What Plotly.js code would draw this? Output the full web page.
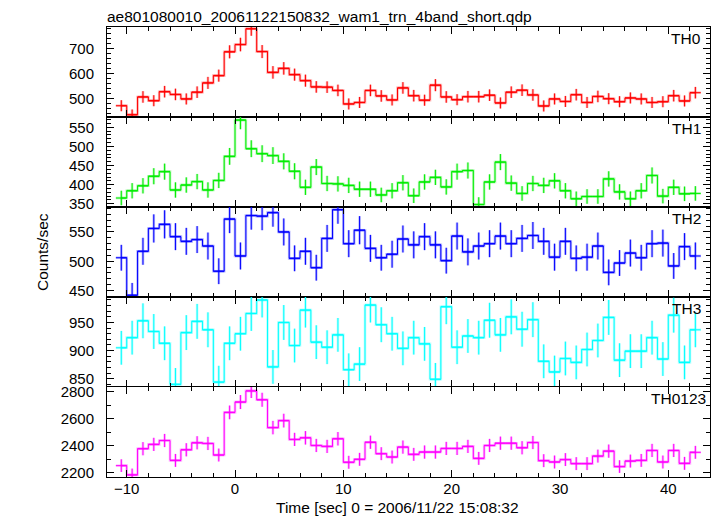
<!DOCTYPE html>
<html>
<head>
<meta charset="utf-8">
<script src="https://cdn.plot.ly/plotly-3.0.1.min.js"></script>
<style>html,body{margin:0;padding:0;background:#fff;}#chart{width:717px;height:516px;}</style>
</head>
<body>
<div id="chart"></div>
<script>
// Bin centres (sec), bin half-width 0.5 s
const timeSec = [-10.5,-9.5,-8.5,-7.5,-6.5,-5.5,-4.5,-3.5,-2.5,-1.5,-0.5,0.5,1.5,2.5,3.5,4.5,5.5,6.5,7.5,8.5,9.5,10.5,11.5,12.5,13.5,14.5,15.5,16.5,17.5,18.5,19.5,20.5,21.5,22.5,23.5,24.5,25.5,26.5,27.5,28.5,29.5,30.5,31.5,32.5,33.5,34.5,35.5,36.5,37.5,38.5,39.5,40.5,41.5,42.5];
const binHalfWidth = 0.5;

const panelNames = ["TH0","TH1","TH2","TH3","TH0123"];

const th0 = [473,437,508,493,529,518,500,527,564,593,688,717,780,689,606,622,597,573,548,547,534,480,486,534,512,496,544,513,495,555,508,497,509,509,515,484,527,535,516,472,500,490,517,486,510,501,489,504,500,486,489,513,492,525];
const th0Err = [22,21,23,22,23,23,22,23,24,24,26,27,28,26,25,25,24,24,23,23,23,22,22,23,23,22,23,23,22,24,23,22,23,23,23,22,23,23,23,22,22,22,23,22,23,22,22,22,22,22,22,23,22,23];

const th1 = [365,384,397,422,434,386,399,408,386,411,474,569,494,481,476,461,435,393,446,403,402,398,388,388,373,384,405,371,407,419,394,434,437,348,407,459,404,377,403,398,410,384,363,369,369,415,381,363,384,424,370,393,376,377];
const th1Err = [19,20,20,21,21,20,20,20,20,20,22,24,22,22,22,21,21,20,21,20,20,20,20,20,19,20,20,19,20,20,20,21,21,19,20,21,20,19,20,20,20,20,19,19,19,20,20,19,20,21,19,20,19,19];

const th2 = [506,442,517,556,563,542,534,537,526,483,572,509,578,577,583,550,505,517,489,539,588,530,553,522,506,512,538,528,542,528,501,543,516,526,530,543,530,539,544,534,507,534,505,507,526,481,497,514,506,530,531,492,525,509];
const th2Err = [22,21,23,24,24,23,23,23,23,22,24,23,24,24,24,23,22,23,22,23,24,23,24,23,22,23,23,23,23,23,22,23,23,23,23,23,23,23,23,23,23,23,22,23,23,22,22,23,22,23,23,22,23,23];

const th3 = [905,923,953,934,913,840,932,952,937,844,913,930,966,990,871,950,909,972,915,906,928,866,876,981,946,930,904,923,912,849,978,906,926,923,954,928,960,938,955,881,862,886,879,902,918,959,883,899,899,923,885,963,879,937];
const th3Err = [30,30,31,31,30,29,31,31,31,29,30,30,31,31,30,31,30,31,30,30,30,29,30,31,31,30,30,30,30,29,31,30,30,30,31,30,31,31,31,30,29,30,30,30,30,31,30,30,30,30,30,31,30,31];

const th0123 = [2252,2183,2378,2410,2439,2291,2370,2422,2417,2331,2648,2725,2808,2742,2535,2587,2447,2459,2402,2395,2452,2277,2299,2426,2341,2316,2390,2336,2353,2353,2380,2380,2395,2306,2402,2419,2419,2385,2424,2289,2279,2297,2267,2267,2323,2360,2245,2286,2291,2365,2279,2365,2269,2351];
const th0123Err = [47,47,49,49,49,48,49,49,49,48,51,52,53,52,50,51,49,50,49,49,50,48,48,49,48,48,49,48,49,49,49,49,49,48,49,49,49,49,49,48,48,48,48,48,48,49,47,48,48,49,48,49,48,48];

const series = [th0, th1, th2, th3, th0123];
const errors = [th0Err, th1Err, th2Err, th3Err, th0123Err];

// styling
const colors = ["#ff0000","#00ee00","#0000ff","#00ffff","#ff00ff"];
const halos  = ["rgba(255,0,0,0.28)","rgba(0,230,0,0.28)","rgba(0,0,255,0.28)","rgba(0,255,255,0.28)","rgba(255,0,255,0.28)"];
const yRanges = [[428,787],[341.5,577],[439,592.6],[835.3,995.3],[2167.5,2837]];
const yDticks = [100,50,50,50,200];
const yMinor  = [20,10,10,10,100];
const labelShift = [-7,-7,-7,-7,-2];

const traces = [];
const layout = {
  width: 717, height: 516,
  margin: {l:107, r:7, t:27, b:39, pad:0},
  paper_bgcolor: "#ffffff", plot_bgcolor: "#ffffff",
  showlegend: false,
  font: {family: "Liberation Sans, Arial, sans-serif", size: 15, color: "#000"},
  annotations: []
};

for (let i = 0; i < 5; i++) {
  const xa = i === 0 ? "x" : "x" + (i+1);
  const ya = i === 0 ? "y" : "y" + (i+1);
  [ {c: halos[i], w: 2.6}, {c: colors[i], w: 1} ].forEach(s => {
    traces.push({
      type: "scatter", mode: "lines",
      x: timeSec, y: series[i], xaxis: xa, yaxis: ya,
      line: {shape: "hvh", color: s.c, width: s.w},
      error_x: {type: "constant", value: binHalfWidth, width: 0, color: s.c, thickness: s.w},
      error_y: {type: "data", array: errors[i], width: 0, color: s.c, thickness: s.w},
      hoverinfo: "skip"
    });
  });
  const top = 1 - i*0.2, bot = top - 0.2;
  const xKey = i === 0 ? "xaxis" : "xaxis" + (i+1);
  const yKey = i === 0 ? "yaxis" : "yaxis" + (i+1);
  layout[xKey] = {
    domain: [0,1], anchor: ya, range: [-11.82, 43.85],
    tick0: 0, dtick: 10, ticks: "inside", ticklen: 7, tickwidth: 1, tickcolor: "#000",
    minor: {dtick: 2, ticks: "inside", ticklen: 4, tickwidth: 1, tickcolor: "#000"},
    showline: true, linecolor: "#000", linewidth: 1, mirror: "allticks",
    showgrid: false, zeroline: false,
    showticklabels: i === 4, ticklabelstandoff: -2,
    tickfont: {size: 15}
  };
  if (i > 0) layout[xKey].matches = "x";
  layout[yKey] = {
    domain: [bot, top], anchor: xa, range: yRanges[i],
    tick0: 0, dtick: yDticks[i], ticks: "inside", ticklen: 7, tickwidth: 1, tickcolor: "#000",
    minor: {dtick: yMinor[i], ticks: "inside", ticklen: 4, tickwidth: 1, tickcolor: "#000"},
    showline: true, linecolor: "#000", linewidth: 1, mirror: "allticks",
    showgrid: false, zeroline: false, ticklabelstandoff: 9,
    tickfont: {size: 15}
  };
  layout.annotations.push({
    xref: "paper", yref: "paper", x: 1, y: top, xanchor: "right", yanchor: "top",
    xshift: labelShift[i], yshift: -1, text: panelNames[i], showarrow: false, font: {size: 15.5}
  });
}

layout.annotations.push({
  xref: "paper", yref: "paper", x: 0, y: 1, xanchor: "left", yanchor: "bottom", yshift: 0, xshift: -2,
  text: "ae801080010_20061122150832_wam1_trn_4band_short.qdp", showarrow: false, font: {size: 15.5}
});
layout.annotations.push({
  xref: "paper", yref: "paper", x: 0, y: 0.5, xanchor: "center", yanchor: "middle", xshift: -65,
  text: "Counts/sec", textangle: -90, showarrow: false, font: {size: 15.5}
});
layout.annotations.push({
  xref: "paper", yref: "paper", x: 0.5, y: 0, xanchor: "center", yanchor: "middle", yshift: -30, xshift: -11,
  text: "Time [sec] 0 = 2006/11/22 15:08:32", showarrow: false, font: {size: 15.5}
});

Plotly.newPlot("chart", traces, layout, {staticPlot: true, displayModeBar: false});
</script>
</body>
</html>
